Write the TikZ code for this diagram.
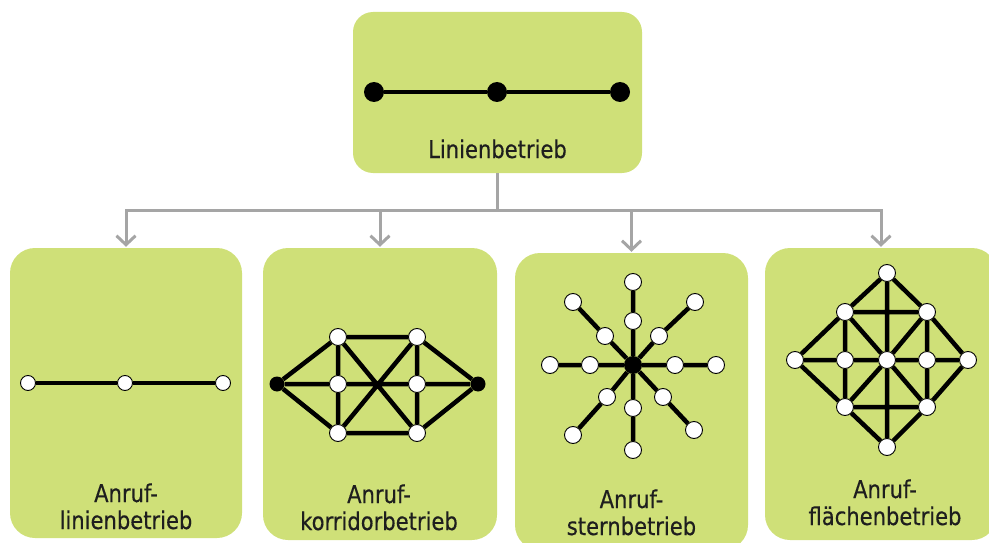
\documentclass[tikz,border=0pt]{standalone}
\usepackage{fontspec}
\setmainfont{DejaVu Sans}[FakeStretch=0.86,FakeBold=0.4]
\usetikzlibrary{arrows.meta}
\definecolor{boxgreen}{RGB}{207,224,120}
\definecolor{linkgray}{RGB}{165,165,165}
\definecolor{txt}{RGB}{30,30,30}
\begin{document}
\begin{tikzpicture}[x=1pt,y=-1pt,
  box/.style={fill=boxgreen, rounded corners=25pt, inner sep=0pt, minimum width=232pt},
  topbox/.style={fill=boxgreen, rounded corners=20pt, inner sep=0pt, minimum width=289pt, minimum height=161pt},
  lbl/.style={text=txt, font=\fontsize{24.5}{27}\selectfont, align=center, anchor=base, inner sep=0pt},
  link/.style={draw=linkgray, line width=3pt, -{Straight Barb[length=9pt,width=19pt]}, shorten >=1pt},
  wdot/.style={circle, draw=black, line width=0.9pt, fill=white, inner sep=0pt, minimum size=#1},
  bdot/.style={circle, fill=black, inner sep=0pt, minimum size=#1},
  gedge/.style={line width=4.5pt},
  ledge/.style={line width=3.6pt}
]
\clip (0,0) rectangle (989,543);

% boxes
\node[topbox] (top) at (497.5,92.5) {};
\node[box, minimum height=290pt] (b1) at (126,393) {};
\node[box, minimum height=292pt, minimum width=234pt] (b2) at (380,394) {};
\node[box, minimum height=297pt, minimum width=233pt] (b3) at (631.5,401.5) {};
\node[box, minimum height=292pt] (b4) at (881,394) {};

% connectors
\coordinate (bar) at (497.5,210);
\draw[link] (top.south) -- (top.south |- bar) -| (b1.north);
\draw[link] (top.south) -- (top.south |- bar) -| (b2.north);
\draw[link] (top.south) -- (top.south |- bar) -| (b3.north);
\draw[link] (top.south) -- (top.south |- bar) -| (b4.north);

% top line
\node[bdot=20pt] (t1) at (374,92) {};
\node[bdot=20pt] (t2) at (497,92) {};
\node[bdot=20pt] (t3) at (620,92) {};
\draw[line width=4pt] (t1) -- (t2) -- (t3);
\node[lbl] (ttop) at (497.5,158) {Linienbetrieb};

% box 1
\node[wdot=15pt] (a1) at (28,383) {};
\node[wdot=15pt] (a2) at (125,383) {};
\node[wdot=15pt] (a3) at (223,383) {};
\draw[ledge] (a1) -- (a2) -- (a3);
\node[lbl] (t1l) at (126,529) {Anruf-\\linienbetrieb};

% box 2
\node[bdot=15pt] (kA) at (277,384) {};
\node[bdot=15pt] (kZ) at (478,384) {};
\node[wdot=17pt] (kTL) at (338,337) {};
\node[wdot=17pt] (kTR) at (417,337) {};
\node[wdot=17pt] (kML) at (338,384) {};
\node[wdot=17pt] (kMR) at (417,384) {};
\node[wdot=17pt] (kBL) at (338,433) {};
\node[wdot=17pt] (kBR) at (417,433) {};
\draw[gedge] (kA) -- (kTL) (kA) -- (kML) (kA) -- (kBL)
  (kTL) -- (kTR) (kBL) -- (kBR)
  (kTL) -- (kML) (kML) -- (kBL) (kTR) -- (kMR) (kMR) -- (kBR)
  (kML) -- (kMR) (kTL) -- (kBR) (kTR) -- (kBL)
  (kZ) -- (kTR) (kZ) -- (kMR) (kZ) -- (kBR);
\node[lbl] (t2l) at (379,530) {Anruf-\\korridorbetrieb};

% box 3
\node[bdot=18pt] (sC) at (633,365) {};
\foreach \n/\x/\y in {ui/633/321, uo/633/282, di/633/408, do/633/450,
  li/590/365, lo/550/365, ri/675/365, ro/716/365,
  ali/605/336, alo/573/302, ari/659/336, aro/695/302,
  bli/607/397, blo/573/435, bri/663/397, bro/694/430}
  \node[wdot=17pt] (s\n) at (\x,\y) {};
\draw[gedge] (sC) -- (sui) -- (suo) (sC) -- (sdi) -- (sdo)
  (sC) -- (sli) -- (slo) (sC) -- (sri) -- (sro)
  (sC) -- (sali) -- (salo) (sC) -- (sari) -- (saro)
  (sC) -- (sbli) -- (sblo) (sC) -- (sbri) -- (sbro);
\node[lbl] (t3l) at (631.5,535) {Anruf-\\sternbetrieb};

% box 4
\foreach \n/\x/\y in {T/887/273, UL/845/312, UR/927/312, L/795/360, ML/845/360,
  C/887/360, MR/927/360, R/968/360, LL/845/407, LR/927/407, B/887/447}
  \node[wdot=17pt] (f\n) at (\x,\y) {};
\draw[gedge] (fT) -- (fUL) -- (fL) -- (fLL) -- (fB) -- (fLR) -- (fR) -- (fUR) -- (fT)
  (fUL) -- (fUR) (fLL) -- (fLR)
  (fUL) -- (fML) -- (fLL) (fUR) -- (fMR) -- (fLR)
  (fT) -- (fC) -- (fB)
  (fL) -- (fML) -- (fC) -- (fMR) -- (fR)
  (fUL) -- (fC) -- (fLR) (fUR) -- (fC) -- (fLL);
\node[lbl] (t4l) at (885,525) {Anruf-\\flächenbetrieb};
\end{tikzpicture}
\end{document}
